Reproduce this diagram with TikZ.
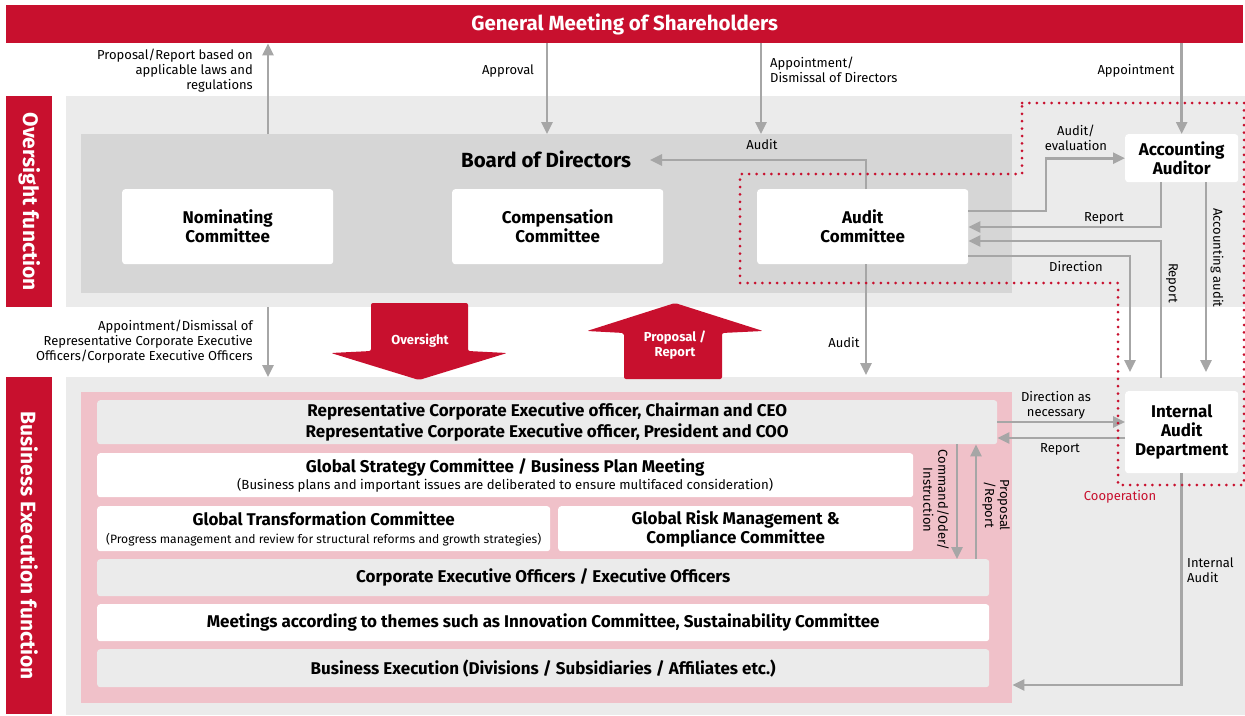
\documentclass[tikz,border=0pt]{standalone}
\usepackage{fontspec}
\setmainfont{Fira Sans}
\usetikzlibrary{arrows.meta,positioning}
\definecolor{corpred}{HTML}{C8102E}
\definecolor{lightbg}{HTML}{EBEBEB}
\definecolor{boardbg}{HTML}{D6D6D6}
\definecolor{pinkbg}{HTML}{F0C1C9}
\definecolor{linegray}{HTML}{A6A6A6}
\newcommand{\subfont}{\mdseries\fontsize{13.2}{14}\selectfont}
\newcommand{\subfontsm}{\mdseries\fontsize{12.1}{14}\selectfont}

\begin{document}
\begin{tikzpicture}[x=1pt,y=-1pt,
  arr/.style={draw=linegray,line width=2.6pt,-{Triangle[width=11pt,length=12pt]}},
  region/.style={rectangle,inner sep=0pt,anchor=north west},
  box/.style={rectangle,fill=white,rounded corners=3pt,inner sep=0pt,anchor=north west,
    align=center,font=\bfseries\fontsize{17}{19}\selectfont},
  graybox/.style={box,fill=lightbg},
  lbl/.style={inner sep=0pt,align=center,font=\fontsize{13}{15}\selectfont},
  sidebar/.style={region,fill=corpred,text=white,font=\bfseries\fontsize{21}{23}\selectfont},
  bigtxt/.style={inner sep=0pt,align=center,text=white,font=\bfseries\fontsize{13}{15}\selectfont},
  coop/.style={draw=corpred,line width=3pt,line cap=round,dash pattern=on 0pt off 7.4pt}]
\useasboundingbox (0,0) rectangle (1245,715);
\node[region,fill=lightbg,minimum width=1179,minimum height=211] (ovbg) at (66,96) {};
\node[region,fill=lightbg,minimum width=1179,minimum height=338] (exbg) at (66,377) {};
\node[region,fill=boardbg,minimum width=931,minimum height=159] (board) at (81,134) {};
\node[region,fill=pinkbg,minimum width=931,minimum height=311] (pink) at (81,392) {};
\node[sidebar,minimum width=1237,minimum height=38,font=\bfseries\fontsize{20.5}{22}\selectfont] (gms) at (6,5) {General Meeting of Shareholders};
\node[sidebar,minimum width=46,minimum height=211] (ovbar) at (6,96) {};
\node[sidebar,anchor=center,rotate=-90] (ovtxt) at (ovbar.center) {Oversight function};
\node[sidebar,minimum width=46,minimum height=337] (exbar) at (6,377) {};
\node[sidebar,anchor=center,rotate=-90] (extxt) at (exbar.center) {Business Execution function};
\node[inner sep=0pt,font=\bfseries\fontsize{20.5}{22}\selectfont] (bodtxt) at (546,159) {Board of Directors};
\node[box,minimum width=211,minimum height=75] (nom) at (122,189) {Nominating\\Committee};
\node[box,minimum width=211,minimum height=75] (comp) at (452,189) {Compensation\\Committee};
\node[box,minimum width=211,minimum height=75] (acm) at (757,189) {Audit\\Committee};
\node[box,minimum width=113,minimum height=48] (aa) at (1125,134) {Accounting\\Auditor};
\node[box,minimum width=113,minimum height=82] (iad) at (1125,391) {Internal\\Audit\\Department};
\node[graybox,minimum width=900,minimum height=44,font=\bfseries\fontsize{17}{21}\selectfont] (ceo) at (97,400) {Representative Corporate Executive officer, Chairman and CEO\\Representative Corporate Executive officer, President and COO};
\node[box,minimum width=816,minimum height=44] (gsc) at (97,453) {Global Strategy Committee / Business Plan Meeting\\[-2pt]{\subfont (Business plans and important issues are deliberated to ensure multifaced consideration)}};
\node[box,minimum width=453,minimum height=45] (gtc) at (97,506) {Global Transformation Committee\\[-1pt]{\subfontsm (Progress management and review for structural reforms and growth strategies)}};
\node[box,minimum width=355,minimum height=45] (grm) at (558,506) {Global Risk Management \&\\Compliance Committee};
\node[graybox,minimum width=892,minimum height=37] (ceoff) at (97,559) {Corporate Executive Officers / Executive Officers};
\node[box,minimum width=892,minimum height=37] (meet) at (97,604) {Meetings according to themes such as Innovation Committee, Sustainability Committee};
\node[graybox,minimum width=892,minimum height=38] (bex) at (97,649) {Business Execution (Divisions / Subsidiaries / Affiliates etc.)};
\fill[corpred,rounded corners=2pt] (371,303) -- (468,303) -- (468,351) -- (507,353) -- (419,380) -- (331,353) -- (371,351) -- cycle;
\node[bigtxt] (ovs) at (420,341) {Oversight};
\fill[corpred,rounded corners=2pt] (624,379) -- (722,379) -- (722,333) -- (763,331) -- (675,303) -- (587,331) -- (624,333) -- cycle;
\node[bigtxt] (prp) at (675,345) {Proposal /\\Report};
\coordinate (xa) at (268,0);
\coordinate (xb) at (547,0);
\coordinate (xc) at (761,0);
\coordinate (bodtip) at (650,160);
\coordinate (adt) at (866,375);
\coordinate (ae) at (1046,211);
\coordinate (rp) at (1161,227);
\coordinate (rq) at (1161,378);
\coordinate (rk) at (0,241);
\coordinate (dk) at (0,256);
\coordinate (dr) at (1130,372);
\coordinate (aat) at (1206,372);
\coordinate (dn) at (0,422);
\coordinate (rn) at (0,438);
\coordinate (cx) at (957,0);
\coordinate (px) at (976,0);
\coordinate (ia) at (0,685);
\draw[arr] (board.north -| xa) -- (gms.south -| xa);
\draw[arr] (gms.south -| xb) -- (board.north -| xb);
\draw[arr] (gms.south -| xc) -- (board.north -| xc);
\draw[arr] (gms.south -| aa.north) -- (aa.north);
\draw[arr] (acm.north -| adt) |- (bodtip);
\draw[arr] (acm.east |- ae) -- (ae) |- (aa.west);
\draw[arr] (aa.south -| rp) |- (acm.east |- rp);
\draw[arr] (rq) |- (acm.east |- rk);
\draw[arr] (acm.east |- dk) -| (dr);
\draw[arr] (aa.south -| aat) -- (aat);
\draw[arr] (acm.south -| adt) -- (adt);
\draw[arr] (ovbg.south -| xa) -- (exbg.north -| xa);
\draw[arr] (ceo.east |- dn) -- (iad.west |- dn);
\draw[arr] (iad.west |- rn) -- (ceo.east |- rn);
\draw[arr] (ceo.south -| cx) -- (ceoff.north -| cx);
\draw[arr] (ceoff.north -| px) -- (ceo.south -| px);
\draw[arr] (iad.south) |- (pink.east |- ia);
\node[lbl,anchor=east,align=right] (lpr) at (253,71) {Proposal/Report based on\\applicable laws and\\regulations};
\node[lbl] (lapv) at (508,71) {Approval};
\node[lbl,anchor=west,align=left] (lapd) at (770,69.5) {Appointment/\\Dismissal of Directors};
\node[lbl] (lapp) at (1136,71) {Appointment};
\node[lbl] (lau1) at (762,145) {Audit};
\node[lbl] (lae) at (1076,138) {Audit/\\evaluation};
\node[lbl] (lrp1) at (1104,218) {Report};
\node[lbl] (ldir) at (1076,267) {Direction};
\node[lbl,rotate=-90] (lrp2) at (1172,283) {Report};
\node[lbl,rotate=-90] (lacc) at (1217,258) {Accounting audit};
\node[lbl] (lau2) at (844,343) {Audit};
\node[lbl,anchor=east,align=right] (lrep) at (253,342) {Appointment/Dismissal of\\Representative Corporate Executive\\Officers/Corporate Executive Officers};
\node[lbl] (ldan) at (1056,405) {Direction as\\necessary};
\node[lbl] (lrp3) at (1060,449) {Report};
\node[lbl,text=corpred] (lcoop) at (1120,497) {Cooperation};
\node[lbl,anchor=west,align=left] (lia) at (1187,570) {Internal\\Audit};
\node[lbl,rotate=-90] (lcmd) at (936,500) {Command/Oder/\\Instruction};
\node[lbl,rotate=-90] (lprp) at (996,505) {Proposal\\/Report};
\draw[coop] (1022,103) -- (1244,103) -- (1244,485) -- (1118,485) -- (1118,283) -- (740,283) -- (740,174) -- (1022,174) -- cycle;
\end{tikzpicture}
\end{document}
